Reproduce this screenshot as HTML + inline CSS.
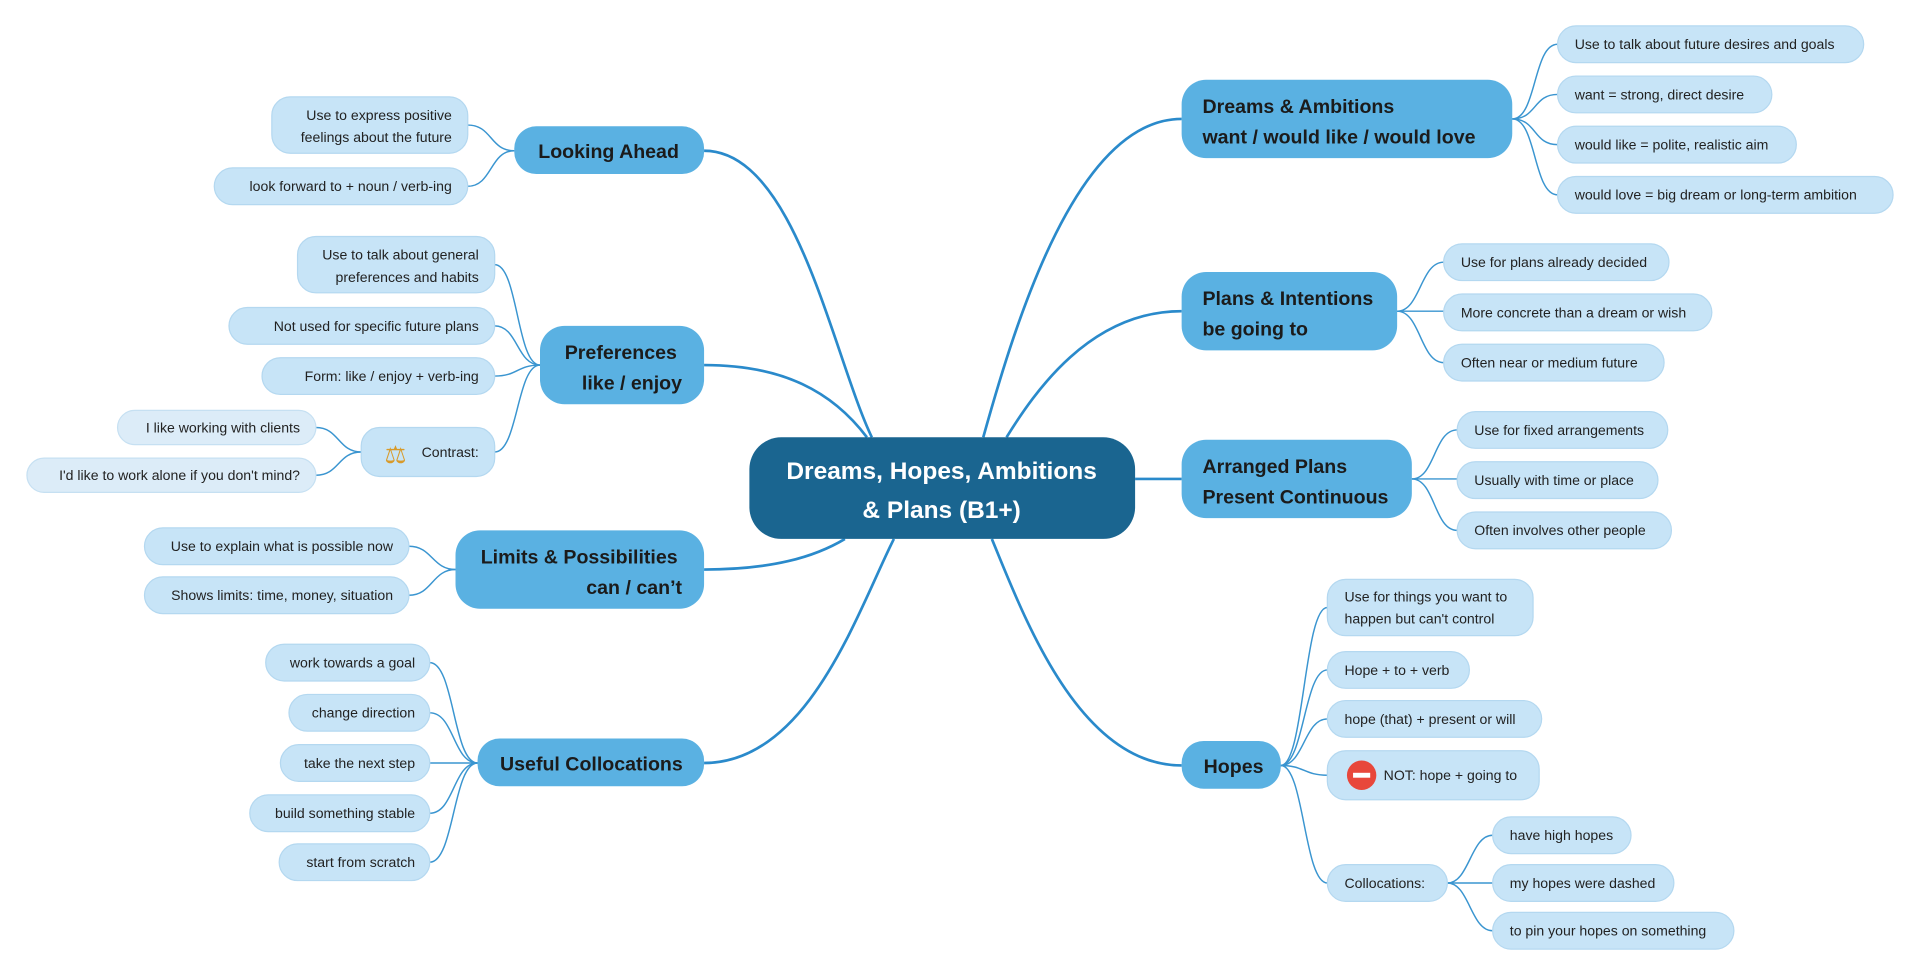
<!DOCTYPE html>
<html><head><meta charset="utf-8"><style>
html,body{margin:0;padding:0;background:#fff;width:1920px;height:975px;overflow:hidden}
svg{display:block}
text{font-family:"Liberation Sans",sans-serif}
.m{font-weight:bold;font-size:16px;fill:#1b1b1b}
.l{font-size:11.5px;fill:#222}
.lf{fill:#c7e4f7;stroke:#b4d8f0;stroke-width:1}
.mn{fill:#5ab1e2}
.c{fill:none;stroke:#2a8acb;stroke-width:2.2}
.t{fill:none;stroke:#3a95d0;stroke-width:1.2}
</style></head><body>
<svg width="1920" height="975" viewBox="0 0 1568 796" xmlns="http://www.w3.org/2000/svg">
<!-- main connectors -->
<path class="c" d="M575,123 C650,123 680,290 712,357"/>
<path class="c" d="M575,298 C640,298 680,320 708,357"/>
<path class="c" d="M575,465 C630,465 665,455 690,440"/>
<path class="c" d="M575,623 C660,623 700,500 730,440"/>
<path class="c" d="M965,97 C880,97 830,260 803,357"/>
<path class="c" d="M965,254 C890,254 845,320 822,357"/>
<path class="c" d="M927,391 L965,391"/>
<path class="c" d="M965,625 C880,625 835,500 810,440"/>
<!-- leaf connectors -->
<g class="t">
<path d="M1235,97 C1255,97 1252,36 1272,36"/><path d="M1235,97 C1255,97 1252,77 1272,77"/><path d="M1235,97 C1255,97 1252,118 1272,118"/><path d="M1235,97 C1255,97 1252,159 1272,159"/>
<path d="M1141,254 C1160,254 1160,214 1179,214"/><path d="M1141,254 L1179,254"/><path d="M1141,254 C1160,254 1160,296 1179,296"/>
<path d="M1153,391 C1172,391 1171,351 1190,351"/><path d="M1153,391 L1190,391"/><path d="M1153,391 C1172,391 1171,433 1190,433"/>
<path d="M1046,625 C1065,625 1065,496 1084,496"/><path d="M1046,625 C1065,625 1065,547 1084,547"/><path d="M1046,625 C1065,625 1065,587 1084,587"/><path d="M1046,625 C1065,625 1065,633 1084,633"/><path d="M1046,625 C1065,625 1065,721 1084,721"/>
<path d="M1182,721 C1200,721 1201,682 1219,682"/><path d="M1182,721 L1219,721"/><path d="M1182,721 C1200,721 1201,760 1219,760"/>
<path d="M420,123 C400,123 402,102 382,102"/><path d="M420,123 C400,123 402,152 382,152"/>
<path d="M441,298 C422,298 423,216 404,216"/><path d="M441,298 C422,298 423,266 404,266"/><path d="M441,298 C422,298 423,307 404,307"/><path d="M441,298 C422,298 423,369 404,369"/>
<path d="M295,369 C276,369 277,349 258,349"/><path d="M295,369 C276,369 277,388 258,388"/>
<path d="M372,465 C353,465 353,446 334,446"/><path d="M372,465 C353,465 353,486 334,486"/>
<path d="M390,623 C370,623 371,541 351,541"/><path d="M390,623 C370,623 371,582 351,582"/><path d="M390,623 L351,623"/><path d="M390,623 C370,623 371,664 351,664"/><path d="M390,623 C370,623 371,704 351,704"/>
</g>
<!-- central -->
<rect x="612" y="357" width="315" height="83" rx="26" fill="#1a6590"/>
<text x="769" y="391" text-anchor="middle" font-weight="bold" font-size="20" fill="#fff">Dreams, Hopes, Ambitions</text>
<text x="769" y="423" text-anchor="middle" font-weight="bold" font-size="20" fill="#fff">&amp; Plans (B1+)</text>
<!-- main nodes -->
<rect class="mn" x="420" y="103" width="155" height="39" rx="18"/><text class="m" x="497" y="129" text-anchor="middle">Looking Ahead</text>
<rect class="mn" x="441" y="266" width="134" height="64" rx="20"/><text class="m" x="507" y="293" text-anchor="middle">Preferences</text><text class="m" x="557" y="318" text-anchor="end">like / enjoy</text>
<rect class="mn" x="372" y="433" width="203" height="64" rx="20"/><text class="m" x="473" y="460" text-anchor="middle">Limits &amp; Possibilities</text><text class="m" x="557" y="485" text-anchor="end">can / can’t</text>
<rect class="mn" x="390" y="603" width="185" height="39" rx="18"/><text class="m" x="483" y="629" text-anchor="middle">Useful Collocations</text>
<rect class="mn" x="965" y="65" width="270" height="64" rx="20"/><text class="m" x="982" y="92">Dreams &amp; Ambitions</text><text class="m" x="982" y="117">want / would like / would love</text>
<rect class="mn" x="965" y="222" width="176" height="64" rx="20"/><text class="m" x="982" y="249">Plans &amp; Intentions</text><text class="m" x="982" y="274">be going to</text>
<rect class="mn" x="965" y="359" width="188" height="64" rx="20"/><text class="m" x="982" y="386">Arranged Plans</text><text class="m" x="982" y="411">Present Continuous</text>
<rect class="mn" x="965" y="605" width="81" height="39" rx="18"/><text class="m" x="983" y="631">Hopes</text>
<!-- right leaves -->
<rect class="lf" x="1272" y="21" width="250" height="30" rx="15"/><text class="l" x="1286" y="40">Use to talk about future desires and goals</text>
<rect class="lf" x="1272" y="62" width="175" height="30" rx="15"/><text class="l" x="1286" y="81">want = strong, direct desire</text>
<rect class="lf" x="1272" y="103" width="195" height="30" rx="15"/><text class="l" x="1286" y="122">would like = polite, realistic aim</text>
<rect class="lf" x="1272" y="144" width="274" height="30" rx="15"/><text class="l" x="1286" y="163">would love = big dream or long-term ambition</text>
<rect class="lf" x="1179" y="199" width="184" height="30" rx="15"/><text class="l" x="1193" y="218">Use for plans already decided</text>
<rect class="lf" x="1179" y="240" width="219" height="30" rx="15"/><text class="l" x="1193" y="259">More concrete than a dream or wish</text>
<rect class="lf" x="1179" y="281" width="180" height="30" rx="15"/><text class="l" x="1193" y="300">Often near or medium future</text>
<rect class="lf" x="1190" y="336" width="172" height="30" rx="15"/><text class="l" x="1204" y="355">Use for fixed arrangements</text>
<rect class="lf" x="1190" y="377" width="164" height="30" rx="15"/><text class="l" x="1204" y="396">Usually with time or place</text>
<rect class="lf" x="1190" y="418" width="175" height="30" rx="15"/><text class="l" x="1204" y="437">Often involves other people</text>
<rect class="lf" x="1084" y="473" width="168" height="46" rx="15"/><text class="l" x="1098" y="491">Use for things you want to</text><text class="l" x="1098" y="509">happen but can't control</text>
<rect class="lf" x="1084" y="532" width="116" height="30" rx="15"/><text class="l" x="1098" y="551">Hope + to + verb</text>
<rect class="lf" x="1084" y="572" width="175" height="30" rx="15"/><text class="l" x="1098" y="591">hope (that) + present or will</text>
<rect class="lf" x="1084" y="613" width="173" height="40" rx="15"/><circle cx="1112" cy="633" r="12" fill="#e8473b"/><rect x="1105" y="631" width="14" height="4" fill="#fff"/><text class="l" x="1130" y="637">NOT: hope + going to</text>
<rect class="lf" x="1084" y="706" width="98" height="30" rx="15"/><text class="l" x="1098" y="725">Collocations:</text>
<rect class="lf" x="1219" y="667" width="113" height="30" rx="15"/><text class="l" x="1233" y="686">have high hopes</text>
<rect class="lf" x="1219" y="706" width="148" height="30" rx="15"/><text class="l" x="1233" y="725">my hopes were dashed</text>
<rect class="lf" x="1219" y="745" width="197" height="30" rx="15"/><text class="l" x="1233" y="764">to pin your hopes on something</text>
<!-- left leaves -->
<rect class="lf" x="222" y="79" width="160" height="46" rx="15"/><text class="l" x="369" y="98" text-anchor="end">Use to express positive</text><text class="l" x="369" y="116" text-anchor="end">feelings about the future</text>
<rect class="lf" x="175" y="137" width="207" height="30" rx="15"/><text class="l" x="369" y="156" text-anchor="end">look forward to + noun / verb-ing</text>
<rect class="lf" x="243" y="193" width="161" height="46" rx="15"/><text class="l" x="391" y="212" text-anchor="end">Use to talk about general</text><text class="l" x="391" y="230" text-anchor="end">preferences and habits</text>
<rect class="lf" x="187" y="251" width="217" height="30" rx="15"/><text class="l" x="391" y="270" text-anchor="end">Not used for specific future plans</text>
<rect class="lf" x="214" y="292" width="190" height="30" rx="15"/><text class="l" x="391" y="311" text-anchor="end">Form: like / enjoy + verb-ing</text>
<rect class="lf" x="295" y="349" width="109" height="40" rx="15"/><text x="323" y="378" text-anchor="middle" font-size="20" fill="#d89a2a">⚖</text><text class="l" x="391" y="373" text-anchor="end">Contrast:</text>
<rect x="96" y="335" width="162" height="28" rx="14" fill="#dcecf8" stroke="#c6e0f2"/><text class="l" x="245" y="353" text-anchor="end">I like working with clients</text>
<rect x="22" y="374" width="236" height="28" rx="14" fill="#dcecf8" stroke="#c6e0f2"/><text class="l" x="245" y="392" text-anchor="end">I'd like to work alone if you don't mind?</text>
<rect class="lf" x="118" y="431" width="216" height="30" rx="15"/><text class="l" x="321" y="450" text-anchor="end">Use to explain what is possible now</text>
<rect class="lf" x="118" y="471" width="216" height="30" rx="15"/><text class="l" x="321" y="490" text-anchor="end">Shows limits: time, money, situation</text>
<rect class="lf" x="217" y="526" width="134" height="30" rx="15"/><text class="l" x="339" y="545" text-anchor="end">work towards a goal</text>
<rect class="lf" x="236" y="567" width="115" height="30" rx="15"/><text class="l" x="339" y="586" text-anchor="end">change direction</text>
<rect class="lf" x="229" y="608" width="122" height="30" rx="15"/><text class="l" x="339" y="627" text-anchor="end">take the next step</text>
<rect class="lf" x="204" y="649" width="147" height="30" rx="15"/><text class="l" x="339" y="668" text-anchor="end">build something stable</text>
<rect class="lf" x="228" y="689" width="123" height="30" rx="15"/><text class="l" x="339" y="708" text-anchor="end">start from scratch</text>
</svg>
</body></html>
